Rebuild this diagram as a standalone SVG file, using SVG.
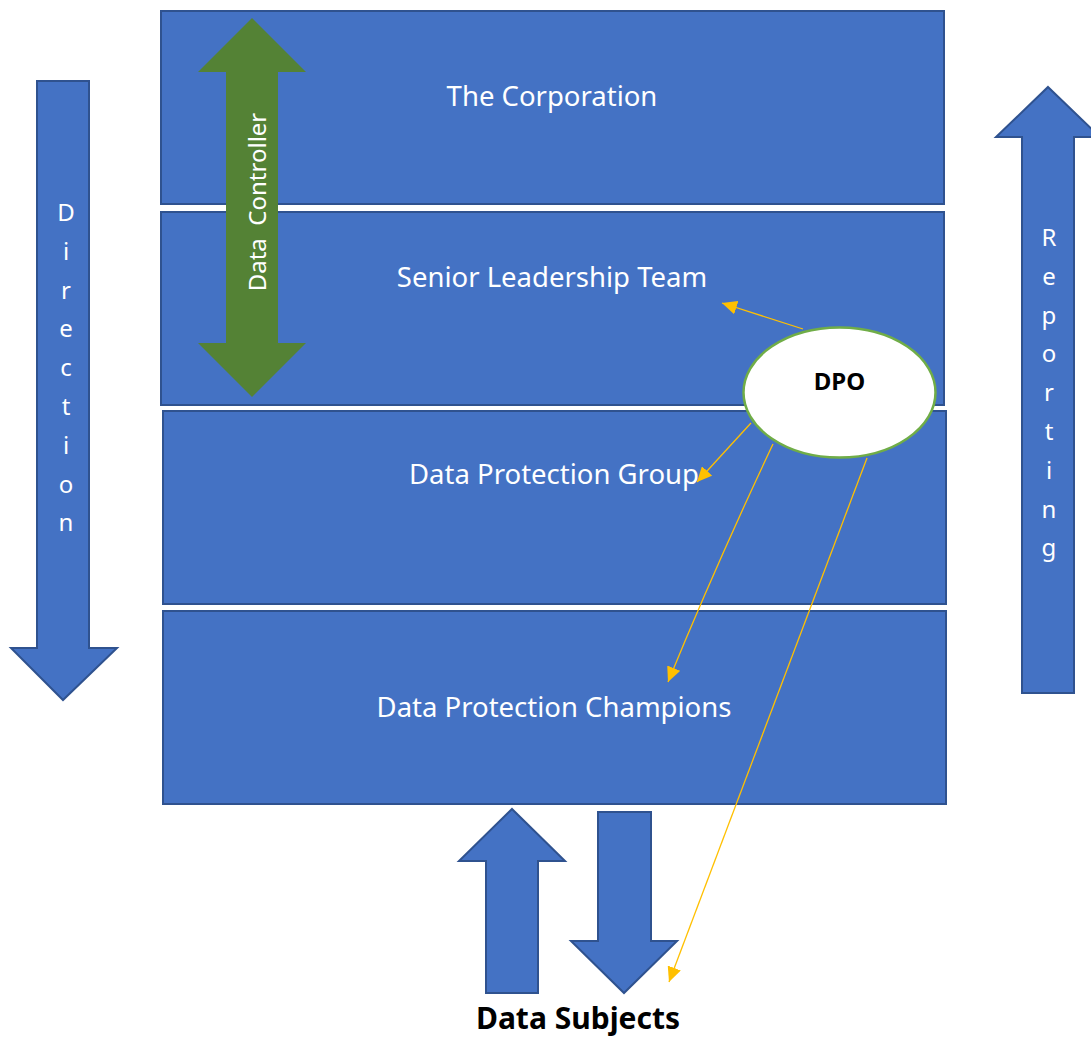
<svg xmlns="http://www.w3.org/2000/svg" width="1091" height="1039" viewBox="0 0 1091 1039">
<style>
.box{fill:#4472C4;stroke:#2F528F;stroke-width:2}
.blue{fill:#4472C4;stroke:#2F528F;stroke-width:2}
.lbl{font-family:"Noto Sans","Open Sans",sans-serif;font-size:27.5px;fill:#FFFFFF;text-anchor:middle}
.vert{font-family:"Noto Sans","Open Sans",sans-serif;font-size:24px;fill:#FFFFFF;text-anchor:middle}
.conn{fill:none;stroke:#FFC000;stroke-width:1.3}
</style>
<defs>
<marker id="ah" markerUnits="userSpaceOnUse" markerWidth="16" markerHeight="14" refX="15" refY="7" orient="auto">
<path d="M0,0 L15,7 L0,14 z" fill="#FFC000"/>
</marker>
</defs>
<rect width="1091" height="1039" fill="#FFFFFF"/>

<g id="corporation">
<rect class="box" x="161" y="11" width="783" height="193"/>
<text class="lbl" x="552" y="106">The Corporation</text>
</g>
<g id="senior-leadership-team">
<rect class="box" x="161" y="212" width="783" height="193"/>
<text class="lbl" x="552" y="287">Senior Leadership Team</text>
</g>
<g id="data-protection-group">
<rect class="box" x="163" y="411" width="783" height="193"/>
<text class="lbl" x="554" y="484">Data Protection Group</text>
</g>
<g id="data-protection-champions">
<rect class="box" x="163" y="611" width="783" height="193"/>
<text class="lbl" x="554" y="717">Data Protection Champions</text>
</g>

<g id="data-controller">
<polygon points="252,18 306,72 278,72 278,343 306,343 252,397 198,343 226,343 226,72 198,72" fill="#548235"/>
<text class="vert" xml:space="preserve" transform="translate(266,202) rotate(-90)" x="0" y="0">Data  Controller</text>
</g>

<g id="direction">
<polygon class="blue" points="37,81 89,81 89,648 117,648 63,700 11,648 37,648"/>
<text class="vert" x="66">
<tspan x="66" y="221">D</tspan><tspan x="66" y="259.8">i</tspan><tspan x="66" y="298.6">r</tspan><tspan x="66" y="337.4">e</tspan><tspan x="66" y="376.2">c</tspan><tspan x="66" y="415">t</tspan><tspan x="66" y="453.8">i</tspan><tspan x="66" y="492.6">o</tspan><tspan x="66" y="531.4">n</tspan>
</text>
</g>

<g id="reporting">
<polygon class="blue" points="1048,87 1100,137 1074,137 1074,693 1022,693 1022,137 996,137"/>
<text class="vert" x="1049">
<tspan x="1049" y="246">R</tspan><tspan x="1049" y="284.8">e</tspan><tspan x="1049" y="323.6">p</tspan><tspan x="1049" y="362.4">o</tspan><tspan x="1049" y="401.2">r</tspan><tspan x="1049" y="440">t</tspan><tspan x="1049" y="478.8">i</tspan><tspan x="1049" y="517.6">n</tspan><tspan x="1049" y="556.4">g</tspan>
</text>
</g>

<g id="data-subjects">
<polygon class="blue" points="512,809 565,861 538,861 538,993 486,993 486,861 459,861"/>
<polygon class="blue" points="598,812 651,812 651,941 677,941 624,993 571,941 598,941"/>
<text x="578" y="1029" font-family="Noto Sans, Open Sans, sans-serif" font-size="30" font-weight="bold" fill="#000000" text-anchor="middle">Data Subjects</text>
</g>

<g id="dpo">
<ellipse cx="839.5" cy="392.5" rx="96" ry="65" fill="#FFFFFF" stroke="#70AD47" stroke-width="2.5"/>
<text x="839.5" y="390" font-family="Noto Sans, Open Sans, sans-serif" font-size="24" font-weight="bold" fill="#000000" text-anchor="middle">DPO</text>
</g>

<g id="connectors">
<line class="conn" x1="803" y1="329" x2="722" y2="303" marker-end="url(#ah)"/>
<line class="conn" x1="751" y1="423" x2="697" y2="482" marker-end="url(#ah)"/>
<path class="conn" d="M773,444 Q716,565 668,682" marker-end="url(#ah)"/>
<line class="conn" x1="867" y1="458" x2="669" y2="982" marker-end="url(#ah)"/>
</g>
</svg>
